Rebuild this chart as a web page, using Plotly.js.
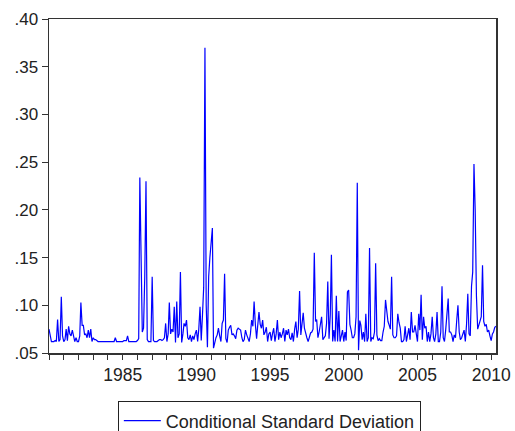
<!DOCTYPE html>
<html>
<head>
<meta charset="utf-8">
<script src="https://cdn.plot.ly/plotly-3.0.1.min.js"></script>
<style>
  html, body { margin: 0; padding: 0; background: #ffffff; }
  #chart { width: 515px; height: 431px; }
</style>
</head>
<body>
<div id="chart"></div>
<script>
// Monthly conditional standard deviation, 1980:01 - 2010:05
const startYear = 1980;
const y1980 = [0.075, 0.066, 0.062, 0.062, 0.062, 0.063, 0.062, 0.085, 0.062, 0.064, 0.109, 0.068];
const y1981 = [0.062, 0.064, 0.075, 0.063, 0.078, 0.070, 0.068, 0.074, 0.066, 0.062, 0.066, 0.062];
const y1982 = [0.062, 0.068, 0.103, 0.079, 0.079, 0.069, 0.070, 0.066, 0.074, 0.066, 0.075, 0.062];
const y1983 = [0.066, 0.064, 0.064, 0.063, 0.062, 0.062, 0.062, 0.062, 0.062, 0.062, 0.062, 0.062];
const y1984 = [0.062, 0.062, 0.062, 0.062, 0.062, 0.062, 0.066, 0.062, 0.062, 0.062, 0.062, 0.062];
const y1985 = [0.062, 0.063, 0.063, 0.063, 0.068, 0.062, 0.062, 0.062, 0.062, 0.062, 0.062, 0.062];
const y1986 = [0.063, 0.065, 0.234, 0.150, 0.072, 0.076, 0.130, 0.230, 0.064, 0.062, 0.062, 0.062];
const y1987 = [0.130, 0.063, 0.062, 0.062, 0.062, 0.063, 0.064, 0.064, 0.063, 0.064, 0.066, 0.081];
const y1988 = [0.062, 0.070, 0.103, 0.070, 0.075, 0.072, 0.0985, 0.061, 0.104, 0.066, 0.070, 0.135];
const y1989 = [0.061, 0.070, 0.081, 0.078, 0.0845, 0.066, 0.064, 0.069, 0.062, 0.068, 0.064, 0.070];
const y1990 = [0.074, 0.062, 0.075, 0.0985, 0.063, 0.090, 0.119, 0.370, 0.100, 0.056, 0.130, 0.150];
const y1991 = [0.165, 0.181, 0.055, 0.061, 0.066, 0.069, 0.076, 0.068, 0.062, 0.081, 0.0845, 0.133];
const y1992 = [0.065, 0.061, 0.074, 0.077, 0.079, 0.069, 0.070, 0.068, 0.065, 0.074, 0.076, 0.075];
const y1993 = [0.074, 0.066, 0.062, 0.064, 0.074, 0.069, 0.066, 0.062, 0.070, 0.0845, 0.078, 0.104];
const y1994 = [0.080, 0.065, 0.079, 0.093, 0.080, 0.076, 0.0845, 0.069, 0.072, 0.077, 0.062, 0.070];
const y1995 = [0.072, 0.063, 0.070, 0.076, 0.062, 0.070, 0.0845, 0.064, 0.072, 0.066, 0.070, 0.076];
const y1996 = [0.062, 0.074, 0.069, 0.075, 0.066, 0.064, 0.071, 0.062, 0.075, 0.083, 0.066, 0.075];
const y1997 = [0.115, 0.069, 0.080, 0.092, 0.076, 0.070, 0.066, 0.062, 0.068, 0.071, 0.072, 0.075];
const y1998 = [0.155, 0.083, 0.085, 0.066, 0.072, 0.081, 0.088, 0.064, 0.066, 0.068, 0.081, 0.125];
const y1999 = [0.065, 0.090, 0.153, 0.062, 0.074, 0.062, 0.110, 0.062, 0.094, 0.062, 0.068, 0.074];
const y2000 = [0.062, 0.072, 0.063, 0.114, 0.116, 0.080, 0.074, 0.066, 0.066, 0.070, 0.088, 0.2285];
const y2001 = [0.053, 0.084, 0.079, 0.064, 0.072, 0.062, 0.091, 0.062, 0.066, 0.160, 0.062, 0.066];
const y2002 = [0.065, 0.072, 0.144, 0.069, 0.063, 0.065, 0.063, 0.063, 0.072, 0.078, 0.1056, 0.094];
const y2003 = [0.083, 0.079, 0.075, 0.130, 0.069, 0.066, 0.066, 0.068, 0.091, 0.082, 0.076, 0.062];
const y2004 = [0.062, 0.064, 0.078, 0.062, 0.068, 0.076, 0.064, 0.093, 0.072, 0.072, 0.079, 0.069];
const y2005 = [0.062, 0.091, 0.074, 0.111, 0.064, 0.088, 0.076, 0.078, 0.062, 0.072, 0.062, 0.070];
const y2006 = [0.088, 0.066, 0.062, 0.070, 0.093, 0.062, 0.062, 0.072, 0.120, 0.066, 0.062, 0.074];
const y2007 = [0.090, 0.107, 0.072, 0.072, 0.069, 0.062, 0.069, 0.066, 0.0845, 0.100, 0.072, 0.064];
const y2008 = [0.066, 0.070, 0.074, 0.062, 0.080, 0.112, 0.070, 0.068, 0.120, 0.135, 0.248, 0.200];
const y2009 = [0.110, 0.075, 0.079, 0.082, 0.088, 0.142, 0.083, 0.078, 0.080, 0.072, 0.074, 0.068];
const y2010 = [0.063, 0.070, 0.072, 0.077, 0.078];

const seriesName = "Conditional Standard Deviation";
const yTickVals = [0.05, 0.10, 0.15, 0.20, 0.25, 0.30, 0.35, 0.40];
const yTickText = [".05", ".10", ".15", ".20", ".25", ".30", ".35", ".40"];
const xTickVals = ["1985-01-01", "1990-01-01", "1995-01-01", "2000-01-01", "2005-01-01", "2010-01-01"];
const xTickText = ["1985", "1990", "1995", "2000", "2005", "2010"];

const years = [y1980, y1981, y1982, y1983, y1984, y1985, y1986, y1987, y1988, y1989,
               y1990, y1991, y1992, y1993, y1994, y1995, y1996, y1997, y1998, y1999,
               y2000, y2001, y2002, y2003, y2004, y2005, y2006, y2007, y2008, y2009, y2010];
const dates = [];
const values = [];
years.forEach((arr, k) => {
  arr.forEach((v, m) => {
    const mm = String(m + 1).padStart(2, "0");
    dates.push((startYear + k) + "-" + mm + "-01");
    values.push(v);
  });
});

const font = "Arial, 'Liberation Sans', sans-serif";

const trace = {
  x: dates, y: values, type: "scatter", mode: "lines",
  name: seriesName,
  line: { color: "#0000FF", width: 1.2 }
};

const layout = {
  width: 515, height: 431,
  margin: { l: 49, r: 19, t: 19, b: 78, autoexpand: false },
  paper_bgcolor: "#ffffff", plot_bgcolor: "#ffffff",
  font: { family: font, size: 17, color: "#222222" },
  showlegend: true,
  legend: {
    x: 0.154, xanchor: "left", y: -0.145, yanchor: "top",
    orientation: "h", itemwidth: 37,
    bordercolor: "#222222", borderwidth: 1, bgcolor: "#ffffff",
    font: { family: font, size: 18, color: "#222222" }
  },
  xaxis: {
    type: "date",
    range: ["1980-01-01", "2010-05-01"],
    tickmode: "array", tickvals: xTickVals, ticktext: xTickText,
    ticks: "outside", ticklen: 5, tickwidth: 1, tickcolor: "#333333",
    minor: { tickmode: "linear", tick0: "1980-01-01", dtick: "M12", ticks: "outside", ticklen: 5, tickcolor: "#333333", showgrid: false },
    showline: true, linecolor: "#333333", linewidth: 1.5, mirror: true,
    showgrid: false, zeroline: false,
    tickfont: { family: font, size: 17.5, color: "#222222" }
  },
  yaxis: {
    range: [0.05, 0.40],
    tickmode: "array", tickvals: yTickVals, ticktext: yTickText,
    ticks: "outside", ticklen: 6, tickwidth: 1, tickcolor: "#333333",
    showline: true, linecolor: "#333333", linewidth: 1.5, mirror: true,
    showgrid: false, zeroline: false,
    tickfont: { family: font, size: 17, color: "#222222" }
  }
};

Plotly.newPlot("chart", [trace], layout, { staticPlot: true, displayModeBar: false });
</script>
</body>
</html>
